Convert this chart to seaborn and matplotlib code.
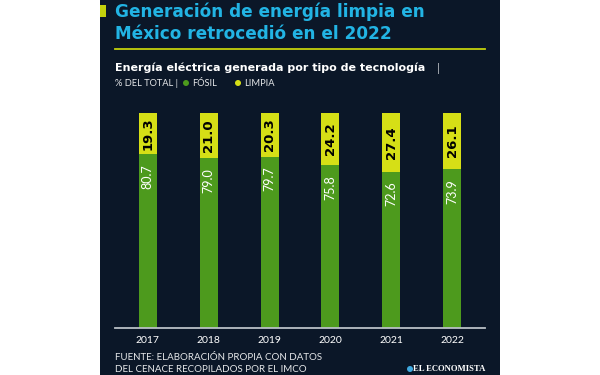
"""
Stacked share of fossil vs clean electricity generation in Mexico, 2017-2022.
"""
import numpy as np
import pandas as pd
import matplotlib.pyplot as plt
from matplotlib.patches import Rectangle, Ellipse
from matplotlib.lines import Line2D
import seaborn as sns

years = ['2017', '2018', '2019', '2020', '2021', '2022']
fosil = [80.7, 79.0, 79.7, 75.8, 72.6, 73.9]
limpia = [19.3, 21.0, 20.3, 24.2, 27.4, 26.1]

BG = '#0b1728'
GREEN = '#4d9a1d'
YELLOW = '#d6df16'
CYAN = '#22b4e4'
LIME = '#c3d10c'

W, H = 600, 375


def fx(px):
    return px / W


def fy(py):
    return 1 - py / H


def dot(fig, x, y, d, color):
    fig.patches.append(Ellipse((fx(x), fy(y)), d / W, d / H, transform=fig.transFigure,
                               facecolor=color, edgecolor='none', zorder=2))


def main():
    df = pd.DataFrame({'year': years, 'fosil': fosil, 'limpia': limpia})
    df['total'] = df['fosil'] + df['limpia']

    fig = plt.figure(figsize=(6, 3.75), dpi=100, facecolor='white')
    fig.patches.append(Rectangle((fx(100), 0), fx(400), 1, transform=fig.transFigure,
                                 facecolor=BG, edgecolor='none', zorder=-2))
    # small marker next to the title
    fig.patches.append(Rectangle((fx(100), fy(17)), fx(6), 12 / H, transform=fig.transFigure,
                                 facecolor=LIME, edgecolor='none', zorder=-1))

    ax = fig.add_axes([fx(115), fy(328), fx(370), 215 / H])
    ax.set_facecolor('none')

    sns.barplot(data=df, x='year', y='total', order=years, color=YELLOW,
                width=0.295, saturation=1, ax=ax)
    sns.barplot(data=df, x='year', y='fosil', order=years, color=GREEN,
                width=0.295, saturation=1, ax=ax)

    for i, (f, l) in enumerate(zip(fosil, limpia)):
        ax.text(i, f + l / 2, f'{l:.1f}', rotation=90, ha='center', va='center',
                fontsize=9.5, fontweight='bold', color='black', family='DejaVu Sans')
        ax.annotate(f'{f:.1f}', (i, f), xytext=(0, -7), textcoords='offset points',
                    rotation=90, ha='center', va='top', fontsize=9,
                    color='white', family='Lato')

    ax.set_xlim(-0.54, 5.54)
    ax.set_ylim(0, 100)
    ax.set(xlabel='', ylabel='', yticks=[])
    ax.tick_params(axis='x', length=0, pad=6, labelsize=7.5, labelcolor='white')
    for lab in ax.get_xticklabels():
        lab.set_family('Lato')
    sns.despine(ax=ax, left=True)
    ax.spines['bottom'].set_color('#b9c0c6')
    ax.spines['bottom'].set_linewidth(1.3)

    # header
    fig.text(fx(115), fy(12), 'Generación de energía limpia en', color=CYAN,
             fontsize=12.2, fontweight='bold', family='DejaVu Sans', va='center')
    fig.text(fx(115), fy(34), 'México retrocedió en el 2022', color=CYAN,
             fontsize=12.2, fontweight='bold', family='DejaVu Sans', va='center')
    fig.lines.append(Line2D([fx(115), fx(485)], [fy(49), fy(49)], transform=fig.transFigure,
                            color=LIME, lw=1.3))
    fig.text(fx(115), fy(68), 'Energía eléctrica generada por tipo de tecnología',
             color='white', fontsize=8.0, fontweight='bold', family='DejaVu Sans', va='center')
    fig.text(fx(437), fy(68), '|', color='#c8ccd0', fontsize=8, family='Lato', va='center')
    fig.text(fx(115), fy(83), '% DEL TOTAL |', color='#e6e8ea', fontsize=6.7,
             family='Lato', va='center')
    dot(fig, 186, 83, 6, GREEN)
    fig.text(fx(192), fy(83), 'FÓSIL', color='#e6e8ea', fontsize=6.7,
             family='Lato', va='center')
    dot(fig, 238, 83, 6, YELLOW)
    fig.text(fx(244), fy(83), 'LIMPIA', color='#e6e8ea', fontsize=6.7,
             family='Lato', va='center')

    # footer
    fig.text(fx(115), fy(357), 'FUENTE: ELABORACIÓN PROPIA CON DATOS', color='#e6e8ea',
             fontsize=7, family='Lato', va='center')
    fig.text(fx(115), fy(369), 'DEL CENACE RECOPILADOS POR EL IMCO', color='#e6e8ea',
             fontsize=7, family='Lato', va='center')
    dot(fig, 410, 369, 6, '#3fa9e0')
    fig.text(fx(485), fy(369), 'EL ECONOMISTA', color='white', fontsize=6.2,
             fontweight='bold', family='Liberation Serif', ha='right', va='center')

    fig.savefig('out.png', dpi=100, facecolor='white')


if __name__ == '__main__':
    main()
